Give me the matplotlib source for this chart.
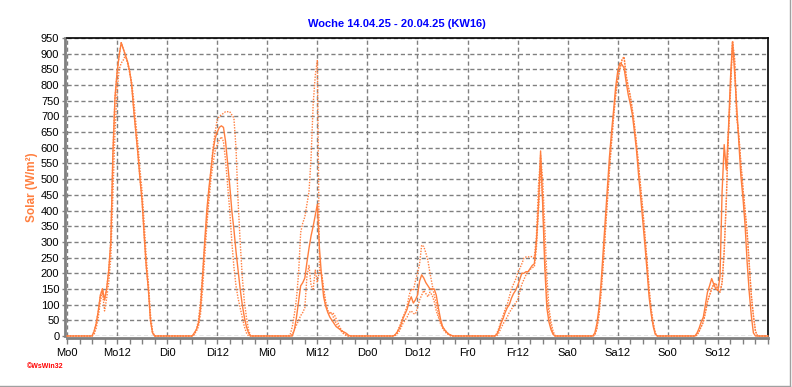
import numpy as np
import matplotlib
matplotlib.use("Agg")
import matplotlib.pyplot as plt
from matplotlib.lines import Line2D

# Halbstundenwerte je Tag, 05:00 bis 21:30 (W/m²)
stunden = np.arange(5.0, 22.0, 0.5)

# aktuelle Woche (durchgezogen)
mo = [0, 0, 0, 15, 40, 80, 130, 150, 115, 150, 210, 300, 580, 760, 840, 895, 935, 915,
      895, 875, 845, 800, 720, 650, 580, 500, 430, 320, 220, 150, 50, 10, 0, 0]
di = [0, 0, 0, 10, 20, 40, 90, 190, 300, 400, 470, 530, 590, 630, 650, 665, 670, 665,
      620, 550, 480, 400, 340, 270, 210, 150, 100, 60, 30, 10, 0, 0, 0, 0]
mi = [0, 0, 0, 20, 60, 110, 160, 170, 185, 235, 280, 320, 350, 385, 420, 280, 190, 125,
      95, 75, 60, 50, 40, 30, 25, 20, 15, 12, 8, 2, 0, 0, 0, 0]
do = [0, 0, 0, 2, 10, 20, 35, 55, 70, 85, 110, 125, 105, 115, 130, 175, 195, 185,
      170, 160, 150, 150, 150, 130, 90, 55, 30, 20, 12, 6, 3, 0, 0, 0]
fr = [0, 0, 0, 0, 5, 20, 40, 55, 75, 90, 100, 120, 135, 145, 160, 180, 200, 200,
      205, 205, 215, 225, 230, 300, 420, 590, 420, 220, 90, 45, 20, 5, 0, 0]
sa = [0, 0, 0, 10, 40, 90, 170, 270, 370, 470, 570, 650, 720, 795, 845, 870, 865, 855,
      810, 770, 740, 705, 650, 590, 510, 440, 365, 290, 210, 125, 70, 30, 5, 0]
so = [0, 0, 0, 0, 10, 25, 45, 60, 100, 140, 160, 183, 165, 150, 145, 190, 460, 610,
      530, 650, 820, 935, 840, 730, 615, 510, 440, 355, 235, 140, 65, 10, 0, 0]

# Vergleichswerte (gepunktet)
mo_a = [0, 0, 0, 5, 25, 60, 110, 140, 80, 120, 170, 250, 450, 650, 780, 850, 870, 880,
        895, 870, 840, 810, 750, 680, 610, 530, 460, 360, 250, 170, 70, 15, 0, 0]
di_a = [0, 0, 0, 5, 20, 50, 110, 200, 290, 370, 450, 530, 600, 650, 690, 700, 705, 710,
        715, 715, 715, 705, 695, 600, 430, 300, 190, 110, 60, 20, 0, 0, 0, 0]
di_b = [0, 0, 0, 5, 15, 30, 70, 150, 250, 350, 430, 500, 550, 590, 610, 625, 635, 620,
        560, 480, 400, 300, 220, 160, 120, 90, 60, 30, 10, 0, 0, 0, 0, 0]
mi_a = [0, 5, 30, 70, 120, 200, 330, 360, 380, 420, 460, 570, 740, 830, 880, 220, 200, 150,
        100, 80, 75, 70, 55, 40, 30, 20, 10, 5, 0, 0, 0, 0, 0, 0]
mi_b = [0, 0, 5, 20, 35, 50, 65, 75, 90, 190, 225, 160, 150, 210, 170, 210, 200, 150,
        110, 80, 70, 75, 70, 55, 40, 25, 15, 8, 3, 0, 0, 0, 0, 0]
do_a = [0, 0, 0, 2, 10, 25, 40, 60, 75, 95, 130, 150, 145, 175, 200, 230, 290, 285,
        265, 240, 200, 165, 130, 105, 70, 45, 30, 20, 12, 5, 2, 0, 0, 0]
do_b = [0, 0, 0, 0, 5, 12, 25, 40, 50, 60, 75, 80, 72, 70, 90, 115, 130, 145,
        135, 125, 140, 130, 110, 80, 60, 40, 25, 15, 8, 3, 0, 0, 0, 0]
fr_a = [0, 0, 0, 0, 8, 25, 45, 65, 85, 100, 125, 150, 165, 180, 200, 215, 230, 248,
        252, 252, 253, 253, 250, 320, 480, 575, 500, 350, 190, 90, 45, 15, 0, 0]
fr_b = [0, 0, 0, 0, 0, 10, 25, 38, 50, 60, 75, 85, 95, 105, 115, 140, 165, 180,
        195, 205, 212, 218, 220, 280, 400, 530, 440, 260, 125, 70, 30, 8, 0, 0]
sa_a = [0, 0, 0, 3, 25, 70, 140, 230, 330, 430, 530, 620, 700, 770, 820, 850, 880, 890,
        830, 795, 765, 720, 670, 610, 540, 470, 400, 320, 240, 150, 85, 40, 8, 0]
so_a = [0, 0, 0, 0, 3, 15, 30, 45, 75, 110, 130, 150, 165, 168, 145, 140, 170, 270,
        430, 640, 780, 940, 880, 700, 640, 550, 470, 400, 330, 230, 130, 65, 15, 0]

tage = ["Mo", "Di", "Mi", "Do", "Fr", "Sa", "So"]
aktuell = [mo, di, mi, do, fr, sa, so]
vergleich_a = [mo_a, di_a, mi_a, do_a, fr_a, sa_a, so_a]
vergleich_b = [mo, di_b, mi_b, do_b, fr_b, sa_a, so_a]

titel = "Woche 14.04.25 - 20.04.25 (KW16)"
orange = "#ff7f3f"


def woche(reihe):
    t = [0.0]
    v = [0.0]
    for i, tag in enumerate(reihe):
        t.extend(i * 24 + stunden)
        v.extend(tag)
    t.append(168.0)
    v.append(0.0)
    return np.array(t), np.array(v)


plt.rcParams["font.family"] = ["Liberation Sans", "DejaVu Sans"]

fig = plt.figure(figsize=(7.92, 3.87), dpi=100)
ax = fig.add_axes([67 / 792, 1 - 336 / 387, 701 / 792, 298 / 387])

for reihe in (vergleich_a, vergleich_b):
    t, v = woche(reihe)
    ax.plot(t, v, color=orange, lw=1.0, ls=(0, (1, 1)), zorder=3, clip_on=False)
t, v = woche(aktuell)
ax.plot(t, v, color=orange, lw=1.0, zorder=4, clip_on=False)

ax.set_xlim(0, 168)
ax.set_ylim(0, 950)
ax.set_yticks(np.arange(0, 951, 50))
ax.set_xticks(np.arange(0, 168, 12))
ax.set_xticklabels([f"{tag}{h}" for tag in tage for h in (0, 12)])
ax.set_xticks(np.arange(0, 169, 3), minor=True)
ax.grid(True, which="major", color="#808080", ls=(0, (3, 2)), lw=1.0)

ax.tick_params(axis="x", which="both", direction="out", length=4, width=1,
               color="#808080", labelsize=8, pad=3)
ax.tick_params(axis="y", direction="out", length=2, width=1,
               color="#808080", labelsize=8, pad=2)

for s in ("left", "bottom"):
    ax.spines[s].set_color("#808080")
    ax.spines[s].set_linewidth(2.0)
    ax.spines[s].set_position(("outward", 1.5))
for s in ("top", "right"):
    ax.spines[s].set_color("black")
    ax.spines[s].set_linewidth(1.2)

fig.text(0.501, 1 - 24 / 387, titel, ha="center", va="center",
         color="#0000ff", fontsize=8, fontweight="bold")
fig.text(32 / 792, 1 - 187 / 387, "Solar (W/m²)", rotation=90, ha="center",
         va="center", color=orange, fontsize=8.5, fontweight="bold")
fig.text(27 / 792, 1 - 367 / 387, "©WsWin32", ha="left", va="center",
         color="red", fontsize=5, fontweight="bold")

# Fensterrahmen rechts und unten
fig.add_artist(Line2D([789.5 / 792, 789.5 / 792], [1 - 386 / 387, 1], color="#a0a0a0", lw=1))
fig.add_artist(Line2D([0, 789.5 / 792], [1 - 385.5 / 387, 1 - 385.5 / 387], color="#a0a0a0", lw=1))

fig.savefig("out.png", dpi=100)
